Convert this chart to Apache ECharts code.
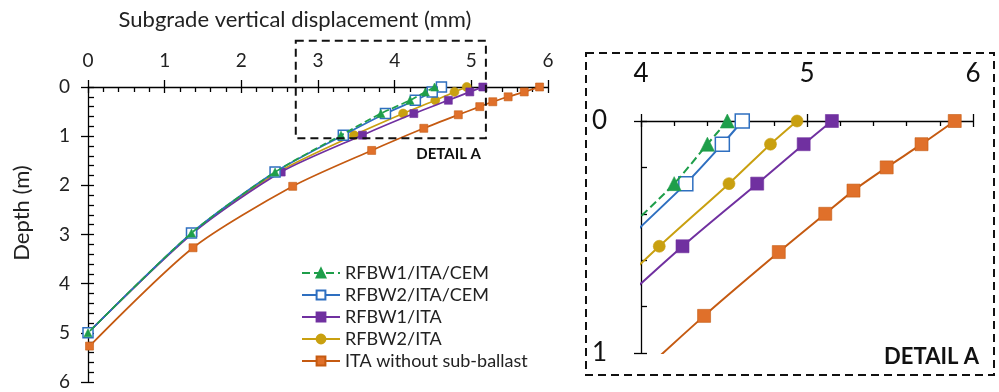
<!DOCTYPE html>
<html><head><meta charset="utf-8">
<script src="https://cdn.jsdelivr.net/npm/echarts@6/dist/echarts.min.js"></script>
<style>html,body{margin:0;padding:0;background:#fff}#c{width:999px;height:392px}</style>
</head><body><div id="c"></div><script>
// ---- data ----
const seriesNames = ['RFBW1/ITA/CEM', 'RFBW2/ITA/CEM', 'RFBW1/ITA', 'RFBW2/ITA', 'ITA without sub-ballast'];
const depthWithSB = [0, 0.10, 0.27, 0.54, 0.98, 1.73, 2.97, 5.0];
const dispRFBW1CEM = [4.52, 4.40, 4.20, 3.82, 3.30, 2.44, 1.35, 0.0];
const dispRFBW2CEM = [4.61, 4.49, 4.27, 3.88, 3.33, 2.44, 1.35, 0.0];
const dispRFBW1ITA = [5.15, 4.98, 4.70, 4.25, 3.58, 2.52, 1.37, 0.0];
const dispRFBW2ITA = [4.94, 4.78, 4.53, 4.11, 3.47, 2.48, 1.36, 0.0];
const depthNoSB = [0, 0.10, 0.20, 0.30, 0.40, 0.565, 0.84, 1.29, 2.02, 3.27, 5.27];
const dispNoSB = [5.89, 5.69, 5.48, 5.28, 5.11, 4.83, 4.38, 3.70, 2.67, 1.37, 0.02];
const mainXTicks = [0, 1, 2, 3, 4, 5, 6];
const mainYTicks = [0, 1, 2, 3, 4, 5, 6];
const detailXTicks = [4, 5, 6];
const detailYTicks = [0, 1];
const detailBoxData = [[2.71, -0.94], [5.19, 1.04]];

// ---- styling ----
const FONT = 'Lato';
const styles = [
  {color: '#1E9E4A', fill: '#1E9E4A', type: 'dashed', symbol: 'triangle', size: 8, dsize: 14},
  {color: '#2E6FC0', fill: '#ffffff', type: 'solid', symbol: 'rect', size: 10, dsize: 14},
  {color: '#7030A0', fill: '#7030A0', type: 'solid', symbol: 'rect', size: 8, dsize: 13},
  {color: '#C9A010', fill: '#C9A010', type: 'solid', symbol: 'circle', size: 9, dsize: 12},
  {color: '#C55A11', fill: '#E0702A', type: 'solid', symbol: 'rect', size: 8, dsize: 13}
];
const xs = [dispRFBW1CEM, dispRFBW2CEM, dispRFBW1ITA, dispRFBW2ITA, dispNoSB];
const ds = [depthWithSB, depthWithSB, depthWithSB, depthWithSB, depthNoSB];
const pairs = (a, b) => a.map((v, i) => [v, b[i]]);

const series = [];
[0, 1].forEach(g => {
  seriesNames.forEach((name, i) => {
    const s = styles[i];
    series.push({
      name, type: 'line', xAxisIndex: g, yAxisIndex: g,
      data: pairs(xs[i], ds[i]), smooth: 0.25, clip: true,
      symbol: s.symbol, symbolSize: g === 0 ? s.size : s.dsize,
      lineStyle: {color: s.color, width: g === 0 ? 1.7 : 2, type: s.type},
      itemStyle: {color: s.fill, borderColor: s.color, borderWidth: i === 1 ? 1.5 : 0.6},
      emphasis: {disabled: true}, animation: false, z: 3 + (4 - i)
    });
  });
});

const lineS = {color: '#000', width: 1.3};
function axisX(grid, min, max, ticks, opts) {
  return Object.assign({
    gridIndex: grid, type: 'value', position: 'top', min, max, interval: ticks[1] - ticks[0],
    axisLine: {show: true, onZero: false, lineStyle: lineS},
    axisTick: {show: true, inside: true, length: 6, lineStyle: lineS},
    minorTick: {show: true, splitNumber: 5, length: 5, lineStyle: lineS},
    splitLine: {show: false}, minorSplitLine: {show: false}
  }, opts);
}
function axisY(grid, min, max, ticks, opts) {
  return Object.assign({
    gridIndex: grid, type: 'value', position: 'left', inverse: true, min, max, interval: ticks[1] - ticks[0],
    axisLine: {show: true, onZero: false, lineStyle: lineS},
    axisTick: {show: true, inside: true, length: 6, lineStyle: lineS},
    minorTick: {show: true, splitNumber: 5, length: 6, lineStyle: lineS},
    splitLine: {show: false}, minorSplitLine: {show: false}
  }, opts);
}
const outerTicks = {axisLine: {show: false}, axisTick: {show: true, inside: false, length: 7, lineStyle: lineS},
  minorTick: {show: false}, axisLabel: {show: false}};

const mainGrid = {left: 88, top: 87, width: 460, height: 295};
const detGrid = {left: 641, top: 121, width: 332, height: 232};

const option = {
  backgroundColor: '#fff',
  animation: false,
  textStyle: {fontFamily: FONT},
  grid: [mainGrid, detGrid, Object.assign({}, mainGrid), Object.assign({}, detGrid)],
  xAxis: [
    axisX(0, mainXTicks[0], mainXTicks[mainXTicks.length - 1], mainXTicks,
      {axisLabel: {margin: 17, fontSize: 19, color: '#222', fontFamily: FONT}}),
    axisX(1, detailXTicks[0], detailXTicks[detailXTicks.length - 1], detailXTicks,
      {axisLabel: {margin: 34, fontSize: 26, color: '#111', fontFamily: FONT}}),
    Object.assign(axisX(2, mainXTicks[0], mainXTicks[mainXTicks.length - 1], mainXTicks), outerTicks),
    Object.assign(axisX(3, detailXTicks[0], detailXTicks[detailXTicks.length - 1], detailXTicks), outerTicks)
  ],
  yAxis: [
    axisY(0, mainYTicks[0], mainYTicks[mainYTicks.length - 1], mainYTicks,
      {axisLabel: {margin: 18, fontSize: 19, color: '#222', fontFamily: FONT}}),
    axisY(1, detailYTicks[0], detailYTicks[detailYTicks.length - 1], detailYTicks,
      {axisLabel: {margin: 34, fontSize: 26, color: '#111', fontFamily: FONT}}),
    Object.assign(axisY(2, mainYTicks[0], mainYTicks[mainYTicks.length - 1], mainYTicks), outerTicks),
    Object.assign(axisY(3, detailYTicks[0], detailYTicks[detailYTicks.length - 1], detailYTicks), outerTicks)
  ],
  legend: {
    data: seriesNames, orient: 'vertical', left: 296, top: 259,
    itemWidth: 38, itemHeight: 11, itemGap: 4,
    textStyle: {fontSize: 18, color: '#222', fontFamily: FONT}
  },
  series
};

const chart = echarts.init(document.getElementById('c'), null, {renderer: 'canvas'});
chart.setOption(option);

const p0 = chart.convertToPixel({xAxisIndex: 0, yAxisIndex: 0}, detailBoxData[0]);
const p1 = chart.convertToPixel({xAxisIndex: 0, yAxisIndex: 0}, detailBoxData[1]);
const dash = {stroke: '#111', lineWidth: 2, lineDash: [8, 5], fill: null};
chart.setOption({
  graphic: [
    {type: 'text', x: 295, y: 20, style: {text: 'Subgrade vertical displacement (mm)', font: '22px ' + FONT, fill: '#222', textAlign: 'center', textVerticalAlign: 'middle'}},
    {type: 'text', x: 22, y: 213, rotation: Math.PI / 2, style: {text: 'Depth (m)', font: '22px ' + FONT, fill: '#222', textAlign: 'center', textVerticalAlign: 'middle'}},
    {type: 'rect', shape: {x: p0[0], y: p0[1], width: p1[0] - p0[0], height: p1[1] - p0[1]}, style: dash, z: 10},
    {type: 'text', x: 481, y: 154, style: {text: 'DETAIL A', font: 'bold 15px ' + FONT, fill: '#111', textAlign: 'right', textVerticalAlign: 'middle'}},
    {type: 'rect', shape: {x: 586, y: 53, width: 408, height: 322}, style: dash, z: 10},
    {type: 'text', x: 979, y: 357, style: {text: 'DETAIL A', font: 'bold 22px ' + FONT, fill: '#111', textAlign: 'right', textVerticalAlign: 'middle'}}
  ]
});
</script></body></html>
